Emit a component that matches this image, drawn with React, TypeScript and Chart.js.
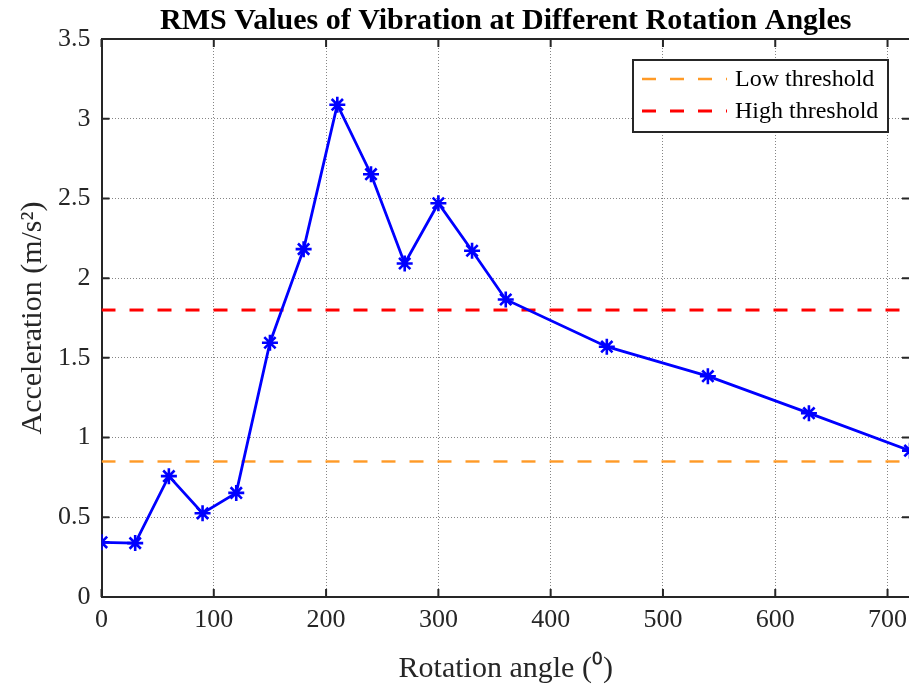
import React, { useEffect, useRef } from "react";
import { Chart, registerables } from "chart.js";

Chart.register(...registerables);

const angles = [0, 30, 60, 90, 120, 150, 180, 210, 240, 270, 300, 330, 360, 450, 540, 630, 720];
const rmsValues = [0.343, 0.338, 0.758, 0.525, 0.653, 1.595, 2.182, 3.088, 2.652, 2.092, 2.47, 2.172, 1.866, 1.57, 1.385, 1.153, 0.918];
const lowThreshold = 0.85;
const highThreshold = 1.8;
const xRange = [0, 720];
const yRange = [0, 3.5];
const titleText = "RMS Values of Vibration at Different Rotation Angles";
const xTitle = "Rotation angle (\u2070)";
const yTitle = "Acceleration (m/s\u00B2)";
const legendLabels = ["Low threshold", "High threshold"];

const FONT = "'Liberation Serif', 'Times New Roman', serif";
const AXIS = "#262626";

const framePlugin = {
  id: "frameTicks",
  afterDatasetsDraw(chart: any) {
    const { ctx, chartArea: a, scales } = chart;
    ctx.save();
    ctx.strokeStyle = AXIS;
    ctx.lineWidth = 2;
    ctx.beginPath();
    ctx.moveTo(a.left, a.top);
    ctx.lineTo(a.right, a.top);
    ctx.lineTo(a.right, a.bottom);
    ctx.stroke();
    const tl = 8;
    ctx.beginPath();
    scales.x.ticks.forEach((t: any) => {
      const px = scales.x.getPixelForValue(t.value);
      ctx.moveTo(px, a.bottom);
      ctx.lineTo(px, a.bottom - tl);
      ctx.moveTo(px, a.top);
      ctx.lineTo(px, a.top + tl);
    });
    scales.y.ticks.forEach((t: any) => {
      const py = scales.y.getPixelForValue(t.value);
      ctx.moveTo(a.left, py);
      ctx.lineTo(a.left + tl, py);
      ctx.moveTo(a.right, py);
      ctx.lineTo(a.right - tl, py);
    });
    ctx.stroke();
    ctx.restore();
  },
  afterDraw(chart: any) {
    const { ctx, chartArea: a } = chart;
    const right = a.right - 22;
    const left = right - 255;
    const top = a.top + 21;
    const bottom = top + 72;
    ctx.save();
    ctx.fillStyle = "#ffffff";
    ctx.fillRect(left, top, right - left, bottom - top);
    ctx.strokeStyle = AXIS;
    ctx.lineWidth = 2;
    ctx.strokeRect(left, top, right - left, bottom - top);
    const items = [chart.data.datasets[1], chart.data.datasets[2]];
    items.forEach((ds: any, i: number) => {
      const y = top + 19 + i * 32;
      ctx.strokeStyle = ds.borderColor;
      ctx.lineWidth = ds.borderWidth;
      ctx.setLineDash(ds.borderDash);
      ctx.beginPath();
      ctx.moveTo(left + 9, y);
      ctx.lineTo(left + 94, y);
      ctx.stroke();
      ctx.setLineDash([]);
      ctx.fillStyle = "#000000";
      ctx.font = `24px ${FONT}`;
      ctx.textBaseline = "middle";
      ctx.textAlign = "left";
      ctx.fillText(ds.label, left + 102, y + 1);
    });
    ctx.restore();
  },
};

export default function App() {
  const ref = useRef<HTMLCanvasElement>(null);
  useEffect(() => {
    if (!ref.current) return;
    const chart = new Chart(ref.current, {
      type: "line",
      data: {
        datasets: [
          {
            label: "RMS",
            data: angles.map((a, i) => ({ x: a, y: rmsValues[i] })),
            borderColor: "#0000FF",
            backgroundColor: "#0000FF",
            borderWidth: 2.8,
            pointStyle: "star",
            pointRadius: 8,
            pointBorderWidth: 2.6,
            pointBorderColor: "#0000FF",
            fill: false,
            tension: 0,
            order: 0,
          },
          {
            label: legendLabels[0],
            data: [
              { x: xRange[0], y: lowThreshold },
              { x: xRange[1], y: lowThreshold },
            ],
            borderColor: "#FF9A26",
            borderWidth: 2.4,
            borderDash: [14, 14],
            pointRadius: 0,
            fill: false,
            order: 1,
          },
          {
            label: legendLabels[1],
            data: [
              { x: xRange[0], y: highThreshold },
              { x: xRange[1], y: highThreshold },
            ],
            borderColor: "#FF0000",
            borderWidth: 3,
            borderDash: [14, 14],
            pointRadius: 0,
            fill: false,
            order: 2,
          },
        ],
      },
      options: {
        animation: false,
        responsive: false,
        maintainAspectRatio: false,
        devicePixelRatio: 1,
        layout: { autoPadding: false, padding: { left: 0, right: 2, top: 0, bottom: 0 } },
        plugins: {
          legend: { display: false },
          tooltip: { enabled: false },
          title: {
            display: true,
            text: titleText,
            fullSize: false,
            color: "#000000",
            font: { family: FONT, size: 30, weight: "bold", lineHeight: 1.2 },
            padding: { top: 3, bottom: 0 },
          },
        },
        scales: {
          x: {
            type: "linear",
            min: xRange[0],
            max: xRange[1],
            afterFit: (s: any) => {
              s.height = 91;
              s.paddingLeft = 0;
              s.paddingRight = 0;
            },
            afterBuildTicks: (s: any) => {
              s.ticks = s.ticks.filter((t: any) => t.value % 100 === 0);
            },
            ticks: {
              stepSize: 100,
              includeBounds: false,
              color: "#262626",
              padding: 8,
              maxRotation: 0,
              font: { family: FONT, size: 26, lineHeight: 1.2 },
            },
            grid: {
              color: "rgba(120,120,120,0.9)",
              lineWidth: 1,
              drawTicks: false,
            },
            border: { display: true, color: AXIS, width: 2, dash: [1, 2] },
            title: {
              display: true,
              text: xTitle,
              color: "#262626",
              font: { family: FONT, size: 30, lineHeight: 1.2 },
              padding: { top: 0, bottom: 1 },
            },
          },
          y: {
            type: "linear",
            min: yRange[0],
            max: yRange[1],
            afterFit: (s: any) => {
              s.width = 101.5;
            },
            ticks: {
              stepSize: 0.5,
              color: "#262626",
              padding: 11,
              font: { family: FONT, size: 26, lineHeight: 1.2 },
              callback: (v: any) => String(v),
            },
            grid: {
              color: "rgba(120,120,120,0.9)",
              lineWidth: 1,
              drawTicks: false,
            },
            border: { display: true, color: AXIS, width: 2, dash: [1, 2] },
            title: {
              display: true,
              text: yTitle,
              color: "#262626",
              font: { family: FONT, size: 30, lineHeight: 1.2 },
              padding: { top: 15, bottom: 0 },
            },
          },
        },
      },
      plugins: [framePlugin],
    } as any);
    return () => chart.destroy();
  }, []);
  return (
    <div style={{ position: "fixed", left: 0, top: 0, width: 909, height: 688, overflow: "hidden", background: "#fff" }}>
      <canvas ref={ref} width={912} height={688} style={{ display: "block", width: 912, height: 688 }} />
    </div>
  );
}
